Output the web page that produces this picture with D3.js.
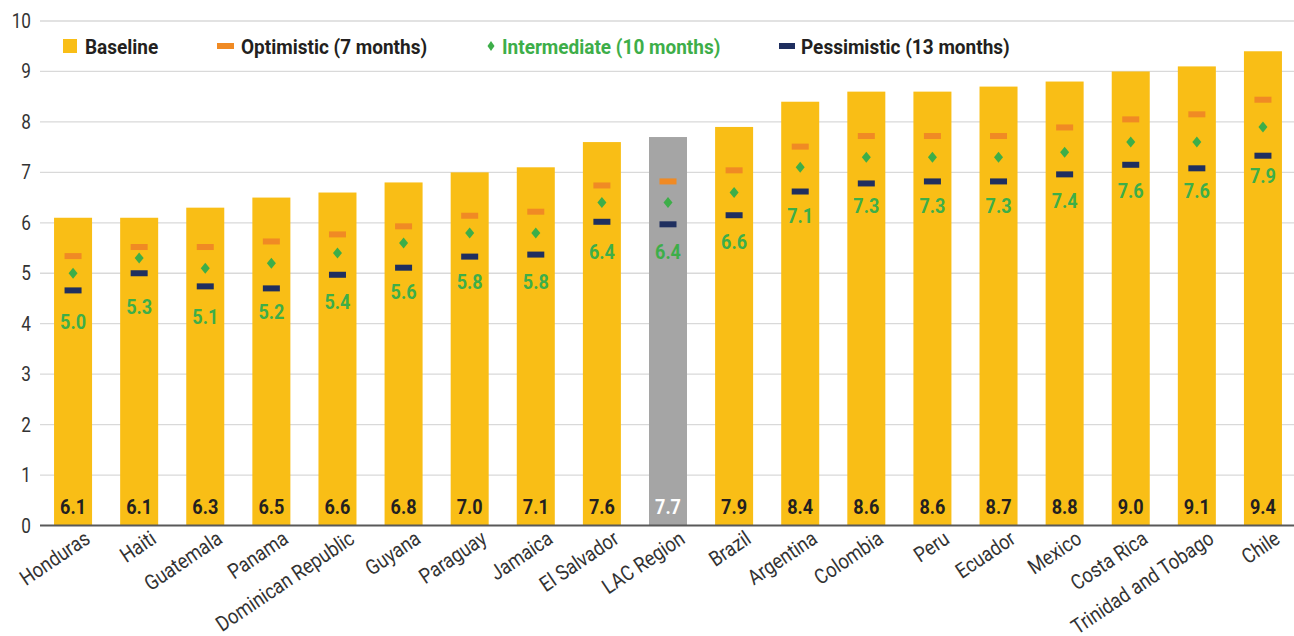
<!DOCTYPE html>
<html>
<head>
<meta charset="utf-8">
<script src="https://cdn.jsdelivr.net/npm/d3@7/dist/d3.min.js"></script>
<style>
  body { margin: 0; background: #fff; }
  svg { display: block; font-family: Roboto, "Noto Sans", sans-serif; }
</style>
</head>
<body>
<div id="chart"></div>
<script>
// --- Data ---
const countries = ["Honduras", "Haiti", "Guatemala", "Panama", "Dominican Republic", "Guyana", "Paraguay",
  "Jamaica", "El Salvador", "LAC Region", "Brazil", "Argentina", "Colombia", "Peru", "Ecuador", "Mexico",
  "Costa Rica", "Trinidad and Tobago", "Chile"];
const baseline     = [6.1, 6.1, 6.3, 6.5, 6.6, 6.8, 7.0, 7.1, 7.6, 7.7, 7.9, 8.4, 8.6, 8.6, 8.7, 8.8, 9.0, 9.1, 9.4];
const optimistic   = [5.34, 5.52, 5.52, 5.63, 5.77, 5.93, 6.14, 6.22, 6.74, 6.82, 7.04, 7.51, 7.72, 7.72, 7.72, 7.89, 8.05, 8.15, 8.44];
const intermediate = [5.0, 5.3, 5.1, 5.2, 5.4, 5.6, 5.8, 5.8, 6.4, 6.4, 6.6, 7.1, 7.3, 7.3, 7.3, 7.4, 7.6, 7.6, 7.9];
const pessimistic  = [4.66, 5.0, 4.74, 4.70, 4.97, 5.11, 5.33, 5.37, 6.02, 5.97, 6.15, 6.62, 6.78, 6.82, 6.82, 6.96, 7.15, 7.08, 7.33];
const highlight = "LAC Region";
const yTicks = [0, 1, 2, 3, 4, 5, 6, 7, 8, 9, 10];
const legendLabels = ["Baseline", "Optimistic (7 months)", "Intermediate (10 months)", "Pessimistic (13 months)"];

const colors = {
  bar: "#F9BE16",
  barHighlight: "#A5A5A5",
  optimistic: "#F08A24",
  intermediate: "#3DAE49",
  pessimistic: "#1F2F5F",
  text: "#231F20",
  grid: "#D9D9D9",
  axis: "#595959"
};

const width = 1294, height = 636;
const margin = { top: 21, right: -2, bottom: 110, left: 40 };
const SX = 0.86; // horizontal squeeze to imitate a condensed face

const svg = d3.select("#chart").append("svg")
  .attr("width", width)
  .attr("height", height)
  .attr("viewBox", `0 0 ${width} ${height}`);

const x = d3.scaleBand()
  .domain(countries)
  .range([margin.left, width - margin.right])
  .paddingInner(0.425)
  .paddingOuter(0.2125);

const y = d3.scaleLinear()
  .domain([0, 10])
  .range([height - margin.bottom - 0.5, margin.top]);

// gridlines
svg.append("g")
  .selectAll("line")
  .data(yTicks.filter(d => d > 0))
  .join("line")
  .attr("x1", margin.left)
  .attr("x2", width)
  .attr("y1", d => y(d))
  .attr("y2", d => y(d))
  .attr("stroke", colors.grid)
  .attr("stroke-width", 1.3);

// y tick labels
svg.append("g")
  .selectAll("text")
  .data(yTicks)
  .join("text")
  .attr("transform", d => `translate(31,${y(d) + 7}) scale(${SX},1)`)
  .attr("text-anchor", "end")
  .attr("font-size", 20)
  .attr("fill", "#333")
  .text(d => d);

const rows = countries.map((c, i) => ({
  country: c,
  base: baseline[i],
  opt: optimistic[i],
  mid: intermediate[i],
  pes: pessimistic[i]
}));

// bars
svg.append("g")
  .selectAll("rect")
  .data(rows)
  .join("rect")
  .attr("x", d => x(d.country))
  .attr("width", x.bandwidth())
  .attr("y", d => y(d.base))
  .attr("height", d => y(0) - y(d.base))
  .attr("fill", d => d.country === highlight ? colors.barHighlight : colors.bar);

// zero axis line
svg.append("line")
  .attr("x1", margin.left)
  .attr("x2", width)
  .attr("y1", y(0))
  .attr("y2", y(0))
  .attr("stroke", colors.axis)
  .attr("stroke-width", 2);

const cx = d => x(d.country) + x.bandwidth() / 2;
const dashW = 17, dashH = 6;

// optimistic dash
svg.append("g")
  .selectAll("rect")
  .data(rows)
  .join("rect")
  .attr("x", d => cx(d) - dashW / 2)
  .attr("y", d => y(d.opt) - dashH / 2)
  .attr("width", dashW)
  .attr("height", dashH)
  .attr("fill", colors.optimistic);

// pessimistic dash
svg.append("g")
  .selectAll("rect")
  .data(rows)
  .join("rect")
  .attr("x", d => cx(d) - dashW / 2)
  .attr("y", d => y(d.pes) - dashH / 2)
  .attr("width", dashW)
  .attr("height", dashH)
  .attr("fill", colors.pessimistic);

// intermediate diamond
const diamond = (w, h) => `M0,${-h / 2}L${w / 2},0L0,${h / 2}L${-w / 2},0Z`;
svg.append("g")
  .selectAll("path")
  .data(rows)
  .join("path")
  .attr("transform", d => `translate(${cx(d)},${y(d.mid)})`)
  .attr("d", diamond(9, 11))
  .attr("fill", colors.intermediate);

// intermediate labels
svg.append("g")
  .selectAll("text")
  .data(rows)
  .join("text")
  .attr("transform", d => `translate(${cx(d)},${y(d.mid) + 56}) scale(${SX},1)`)
  .attr("text-anchor", "middle")
  .attr("font-size", 21)
  .attr("font-weight", 700)
  .attr("fill", colors.intermediate)
  .text(d => d.mid.toFixed(1));

// baseline value labels
svg.append("g")
  .selectAll("text")
  .data(rows)
  .join("text")
  .attr("transform", d => `translate(${cx(d)},${y(0) - 12}) scale(${SX},1)`)
  .attr("text-anchor", "middle")
  .attr("font-size", 21)
  .attr("font-weight", 700)
  .attr("fill", d => d.country === highlight ? "#fff" : colors.text)
  .text(d => d.base.toFixed(1));

// category labels
svg.append("g")
  .selectAll("text")
  .data(countries)
  .join("text")
  .attr("transform", d => `translate(${x(d) + x.bandwidth() / 2 + 10},${y(0) + 4}) rotate(-34) scale(0.87,1)`)
  .attr("text-anchor", "end")
  .attr("dy", "0.72em")
  .attr("font-size", 21)
  .attr("fill", "#333")
  .text(d => d);

// legend
const legendX = [63, 217, 487, 779];
const legend = svg.append("g");
legendLabels.forEach((label, i) => {
  const g = legend.append("g").attr("transform", `translate(${legendX[i]},46)`);
  if (i === 0) {
    g.append("rect").attr("x", 0).attr("y", -7).attr("width", 14).attr("height", 14).attr("fill", colors.bar);
  } else if (i === 1) {
    g.append("rect").attr("x", 0).attr("y", -3).attr("width", 17).attr("height", 6).attr("fill", colors.optimistic);
  } else if (i === 2) {
    g.append("path").attr("transform", "translate(4,0)").attr("d", diamond(7, 10)).attr("fill", colors.intermediate);
  } else {
    g.append("rect").attr("x", 0).attr("y", -3).attr("width", 16).attr("height", 6).attr("fill", colors.pessimistic);
  }
  const tx = [22, 24, 15, 22][i];
  g.append("text")
    .attr("transform", `translate(${tx},7.5) scale(0.905,1)`)
    .attr("font-size", 21)
    .attr("font-weight", 700)
    .attr("fill", i === 2 ? colors.intermediate : colors.text)
    .text(label);
});
</script>
</body>
</html>
